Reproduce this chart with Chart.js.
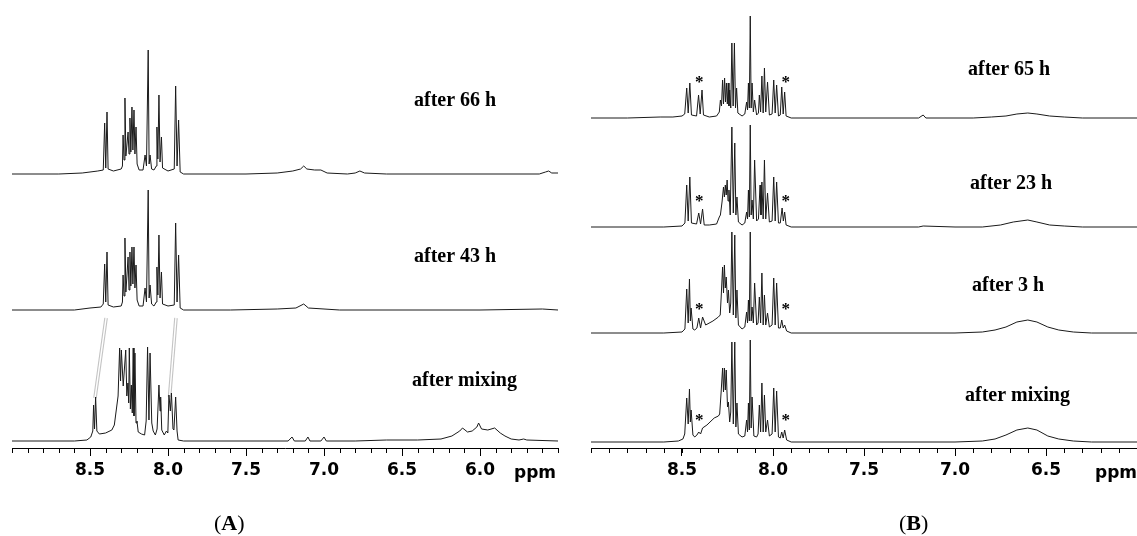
<!DOCTYPE html>
<html>
<head>
<meta charset="utf-8">
<script src="https://cdn.jsdelivr.net/npm/chart.js@4.4.1/dist/chart.umd.min.js"></script>
<style>
  html, body { margin: 0; padding: 0; background: #fff; }
  #wrap { position: relative; width: 1137px; height: 536px; overflow: hidden; }
  #panelA { position: absolute; left: 0; top: 0; }
  #panelB { position: absolute; left: 569px; top: 0; }
</style>
</head>
<body>
<div id="wrap">
  <canvas id="panelA" width="568" height="536"></canvas>
  <canvas id="panelB" width="568" height="536"></canvas>
</div>
<script>
// ---- data: [ppm, intensity above the trace's own baseline] ----
const specA66 = [[9.0,0],[8.70,0],[8.55,1],[8.45,3],[8.415,4],[8.406,51],[8.399,6],[8.391,62],[8.384,5],[8.35,3],[8.30,5],[8.292,8],[8.288,39],[8.282,14],[8.276,76],[8.27,18],[8.263,30],[8.256,42],[8.25,20],[8.244,56],[8.238,22],[8.231,67],[8.225,24],[8.218,64],[8.212,20],[8.205,47],[8.198,10],[8.185,4],[8.16,4],[8.147,19],[8.138,8],[8.127,124],[8.121,10],[8.115,19],[8.105,5],[8.09,4],[8.075,8],[8.071,47],[8.065,15],[8.058,79],[8.051,12],[8.042,37],[8.035,6],[8.0,3],[7.96,5],[7.951,88],[7.942,8],[7.932,54],[7.922,2],[7.90,0],[7.5,0],[7.3,1],[7.2,3],[7.15,5],[7.13,8],[7.11,5],[7.06,4],[7.02,4],[6.98,1],[6.85,0],[6.80,1],[6.77,3],[6.74,1],[6.6,0],[5.62,0],[5.58,2],[5.56,3],[5.54,1],[5.5,1]];
const specA43 = [[9.0,0],[8.6,0],[8.5,2],[8.43,3],[8.415,6],[8.406,46],[8.399,8],[8.391,58],[8.384,5],[8.35,3],[8.30,4],[8.292,8],[8.288,35],[8.282,14],[8.276,72],[8.27,18],[8.263,35],[8.256,53],[8.25,20],[8.244,58],[8.238,24],[8.231,63],[8.225,26],[8.218,63],[8.212,22],[8.205,45],[8.198,10],[8.185,4],[8.16,4],[8.147,22],[8.138,8],[8.127,120],[8.121,12],[8.115,25],[8.105,6],[8.09,4],[8.075,8],[8.071,43],[8.065,15],[8.058,75],[8.051,12],[8.042,38],[8.035,6],[8.0,4],[7.96,5],[7.951,87],[7.942,8],[7.932,55],[7.922,2],[7.9,0],[7.6,0],[7.3,1],[7.18,2],[7.13,6],[7.10,2],[7.0,1],[6.9,0],[6.0,0],[5.6,1],[5.5,0]];
const specAmix = [[9.0,0],[8.6,0],[8.52,1],[8.495,4],[8.482,10],[8.477,36],[8.471,12],[8.464,44],[8.456,10],[8.44,7],[8.40,8],[8.36,11],[8.344,16],[8.32,45],[8.31,93],[8.304,60],[8.299,91],[8.287,55],[8.271,91],[8.264,45],[8.257,58],[8.252,38],[8.248,93],[8.241,32],[8.235,56],[8.229,28],[8.223,93],[8.218,25],[8.212,88],[8.205,18],[8.199,20],[8.191,9],[8.17,7],[8.15,6],[8.14,20],[8.131,94],[8.122,21],[8.115,88],[8.104,18],[8.095,10],[8.081,6],[8.07,12],[8.058,56],[8.051,30],[8.047,44],[8.04,11],[8.024,6],[8.01,10],[8.001,8],[7.994,46],[7.985,30],[7.978,48],[7.968,12],[7.962,11],[7.951,44],[7.942,10],[7.935,1],[7.9,0],[7.23,0],[7.205,4],[7.19,0],[7.12,0],[7.103,4],[7.09,0],[7.02,0],[7.0,4],[6.985,0],[6.8,0],[6.6,1],[6.4,1],[6.25,2],[6.18,5],[6.13,10],[6.112,13],[6.08,9],[6.05,10],[6.02,14],[6.009,18],[5.99,12],[5.95,11],[5.906,13],[5.87,8],[5.84,5],[5.827,4],[5.80,2],[5.75,1],[5.72,2],[5.70,1],[5.5,0]];

const specB65 = [[9.0,0],[8.8,0],[8.62,1],[8.55,1],[8.50,2],[8.485,4],[8.474,30],[8.466,5],[8.457,35],[8.448,3],[8.42,2],[8.409,23],[8.40,4],[8.39,28],[8.382,3],[8.35,1],[8.31,2],[8.295,6],[8.289,18],[8.283,12],[8.277,38],[8.272,14],[8.266,40],[8.261,16],[8.256,35],[8.251,14],[8.246,35],[8.242,12],[8.238,28],[8.232,10],[8.226,75],[8.219,12],[8.212,75],[8.206,10],[8.2,30],[8.193,5],[8.17,2],[8.155,4],[8.145,16],[8.14,8],[8.135,35],[8.13,10],[8.125,102],[8.12,10],[8.115,35],[8.108,6],[8.101,18],[8.09,3],[8.08,5],[8.075,23],[8.068,6],[8.061,42],[8.054,5],[8.047,50],[8.04,6],[8.03,36],[8.02,3],[8.005,4],[7.996,38],[7.988,5],[7.98,33],[7.97,2],[7.96,3],[7.952,31],[7.944,4],[7.936,26],[7.928,2],[7.9,0],[7.2,0],[7.175,3],[7.16,0],[6.9,0],[6.8,1],[6.72,2],[6.66,4],[6.60,5],[6.55,4],[6.48,2],[6.4,1],[6.3,0],[6.0,0]];
const specB23 = [[9.0,0],[8.6,0],[8.5,1],[8.484,4],[8.474,42],[8.466,6],[8.457,50],[8.448,4],[8.42,3],[8.408,14],[8.398,3],[8.387,18],[8.378,2],[8.35,2],[8.31,3],[8.295,10],[8.289,12],[8.28,25],[8.272,40],[8.267,30],[8.262,42],[8.257,32],[8.252,47],[8.247,26],[8.242,37],[8.235,12],[8.226,100],[8.218,14],[8.21,84],[8.204,12],[8.198,30],[8.19,5],[8.17,2],[8.155,4],[8.145,15],[8.14,8],[8.135,37],[8.13,10],[8.125,102],[8.12,12],[8.115,27],[8.108,8],[8.101,67],[8.09,6],[8.08,8],[8.071,42],[8.066,12],[8.061,45],[8.054,8],[8.047,67],[8.04,8],[8.03,34],[8.02,5],[8.005,6],[7.996,50],[7.988,6],[7.98,45],[7.97,4],[7.96,4],[7.95,19],[7.943,6],[7.936,15],[7.928,2],[7.9,0],[7.2,0],[7.175,1],[7.0,0],[6.85,0],[6.75,2],[6.68,5],[6.60,7],[6.55,5],[6.48,2],[6.4,1],[6.3,0],[6.0,0]];
const specB3 = [[9.0,0],[8.6,0],[8.5,1],[8.484,4],[8.474,44],[8.466,10],[8.459,54],[8.454,12],[8.45,25],[8.44,4],[8.43,3],[8.418,5],[8.408,15],[8.398,5],[8.387,16],[8.37,8],[8.33,12],[8.30,16],[8.29,18],[8.285,35],[8.277,66],[8.272,40],[8.267,68],[8.262,45],[8.257,56],[8.25,30],[8.245,43],[8.238,20],[8.232,30],[8.226,101],[8.218,18],[8.21,98],[8.204,15],[8.198,43],[8.19,8],[8.17,4],[8.155,6],[8.145,21],[8.14,10],[8.135,33],[8.13,12],[8.125,101],[8.12,12],[8.115,26],[8.108,10],[8.101,50],[8.09,8],[8.082,10],[8.075,36],[8.068,10],[8.061,60],[8.054,8],[8.047,38],[8.04,8],[8.03,20],[8.02,6],[8.005,8],[7.996,55],[7.988,8],[7.98,50],[7.97,5],[7.96,5],[7.952,13],[7.944,5],[7.936,8],[7.925,2],[7.9,0],[7.0,0],[6.85,1],[6.78,3],[6.72,6],[6.66,11],[6.60,13],[6.55,11],[6.49,6],[6.43,3],[6.35,1],[6.25,0],[6.0,0]];
const specBmix = [[9.0,0],[8.6,0],[8.52,1],[8.495,3],[8.485,8],[8.474,44],[8.466,18],[8.459,53],[8.454,20],[8.45,32],[8.44,7],[8.43,5],[8.418,7],[8.408,10],[8.398,8],[8.387,14],[8.363,17],[8.323,24],[8.30,26],[8.293,28],[8.285,50],[8.277,74],[8.272,50],[8.267,74],[8.262,52],[8.257,72],[8.25,35],[8.245,40],[8.238,20],[8.232,30],[8.226,100],[8.218,18],[8.21,100],[8.204,15],[8.198,39],[8.19,8],[8.17,5],[8.155,6],[8.145,22],[8.14,10],[8.135,39],[8.13,12],[8.125,102],[8.12,14],[8.115,45],[8.105,6],[8.09,5],[8.082,8],[8.075,37],[8.068,10],[8.061,59],[8.054,10],[8.047,47],[8.04,10],[8.03,22],[8.02,6],[8.005,8],[7.996,54],[7.988,10],[7.98,51],[7.97,5],[7.96,4],[7.952,10],[7.944,4],[7.936,12],[7.925,2],[7.9,0],[7.0,0],[6.85,1],[6.78,3],[6.72,7],[6.66,12],[6.60,14],[6.55,12],[6.49,6],[6.43,3],[6.35,1],[6.25,0],[6.0,0]];

const namesA = ['after 66 h', 'after 43 h', 'after mixing'];
const namesB = ['after 65 h', 'after 23 h', 'after 3 h', 'after mixing'];
const ticksA = [8.5, 8.0, 7.5, 7.0, 6.5, 6.0];
const ticksB = [8.5, 8.0, 7.5, 7.0, 6.5];
// shifted-peak guide lines in panel A: [ppm, y] from lower trace to middle trace
const linksA = [[[8.468, 50], [8.397, 130]], [[7.990, 51], [7.949, 130]]];
// impurity marks in panel B: ppm positions and height above each trace
const starPpmB = [8.405, 7.93];
const starHeightB = [39, 29, 27, 25];

// ---- layout ----
const offsetsA = [274, 138, 7];
const offsetsB = [330, 221, 115, 6];
const labelPosA = [[414, 106], [414, 262], [412, 386]];
const labelPosB = [[399, 75], [401, 189], [403, 291], [396, 401]];

const notes = {
  id: 'notes',
  afterDraw(chart, args, o) {
    const ctx = chart.ctx, xs = chart.scales.x, ys = chart.scales.y;
    const bottom = chart.chartArea.bottom;
    ctx.save();
    // minor ticks every 0.1 ppm
    ctx.strokeStyle = '#000';
    ctx.lineWidth = 1;
    for (let k = Math.round(xs.min * 10); k <= Math.round(xs.max * 10); k++) {
      const px = Math.round(xs.getPixelForValue(k / 10)) + 0.5;
      ctx.beginPath();
      ctx.moveTo(px, bottom);
      ctx.lineTo(px, bottom + 5);
      ctx.stroke();
    }
    // "ppm"
    ctx.fillStyle = '#000';
    ctx.font = 'bold 17px "DejaVu Sans"';
    ctx.textAlign = 'center';
    ctx.textBaseline = 'alphabetic';
    ctx.fillText('ppm', o.ppmX, 478);
    // trace labels
    ctx.font = 'bold 20px "Liberation Serif"';
    ctx.textAlign = 'left';
    o.names.forEach((n, i) => ctx.fillText(n, o.labelPos[i][0], o.labelPos[i][1]));
    // stars
    if (o.stars) {
      ctx.font = 'bold 17px "Liberation Serif"';
      ctx.textAlign = 'center';
      o.offsets.forEach((off, i) => {
        o.stars.forEach(p => {
          ctx.fillText('*', xs.getPixelForValue(p), ys.getPixelForValue(off + o.starHeight[i]) + 8);
        });
      });
    }
    // panel letter
    ctx.textAlign = 'left';
    ctx.font = '22px "Liberation Serif"';
    const w1 = ctx.measureText('(').width;
    ctx.font = 'bold 22px "Liberation Serif"';
    const w2 = ctx.measureText(o.panel).width;
    let x0 = o.panelX;
    ctx.font = '22px "Liberation Serif"';
    ctx.fillText('(', x0, 530);
    ctx.font = 'bold 22px "Liberation Serif"';
    ctx.fillText(o.panel, x0 + w1, 530);
    ctx.font = '22px "Liberation Serif"';
    ctx.fillText(')', x0 + w1 + w2, 530);
    ctx.restore();
  }
};

function traceSet(spec, off) {
  return {
    data: spec.map(([p, h]) => ({ x: p, y: off + h })),
    showLine: true, borderColor: '#1a1a1a', borderWidth: 1, pointRadius: 0,
    tension: 0, order: 0, clip: false
  };
}

function linkSets(links) {
  const sets = [];
  links.forEach(l => {
    const data = l.map(([p, y]) => ({ x: p, y: y }));
    sets.push({ data, showLine: true, borderColor: '#c4c4c4', borderWidth: 3.6, pointRadius: 0, order: 5 });
    sets.push({ data, showLine: true, borderColor: '#ffffff', borderWidth: 1.4, pointRadius: 0, order: 4 });
  });
  return sets;
}

function makeChart(id, cfg) {
  const datasets = cfg.specs.map((s, i) => traceSet(s, cfg.offsets[i])).concat(linkSets(cfg.links || []));
  return new Chart(document.getElementById(id), {
    type: 'scatter',
    data: { datasets },
    options: {
      responsive: false,
      animation: false,
      layout: { padding: { left: cfg.padLeft, right: cfg.padRight, top: 0, bottom: 0 } },
      plugins: {
        legend: { display: false },
        tooltip: { enabled: false },
        notes: {
          names: cfg.names, labelPos: cfg.labelPos, offsets: cfg.offsets,
          stars: cfg.stars, starHeight: cfg.starHeight, panel: cfg.panel,
          panelX: cfg.panelX, ppmX: cfg.ppmX
        }
      },
      scales: {
        x: {
          type: 'linear', reverse: true, min: cfg.min, max: cfg.max,
          afterFit: s => { s.height = 88; },
          afterBuildTicks: s => { s.ticks = cfg.ticks.map(v => ({ value: v })); },
          grid: { drawOnChartArea: false, drawTicks: true, tickLength: 8, tickColor: '#000', tickWidth: 1 },
          border: { display: true, color: '#000', width: 1 },
          ticks: {
            color: '#000', padding: 4, maxRotation: 0, autoSkip: false,
            font: { family: 'DejaVu Sans', weight: 'bold', size: 17 },
            callback: v => Number(v).toFixed(1)
          }
        },
        y: { display: false, min: 0, max: 448 }
      }
    },
    plugins: [notes]
  });
}

makeChart('panelA', {
  specs: [specA66, specA43, specAmix], offsets: offsetsA, names: namesA, labelPos: labelPosA,
  links: linksA, ticks: ticksA, min: 5.5, max: 9.0, padLeft: 12, padRight: 10,
  panel: 'A', panelX: 214, ppmX: 535
});
makeChart('panelB', {
  specs: [specB65, specB23, specB3, specBmix], offsets: offsetsB, names: namesB, labelPos: labelPosB,
  ticks: ticksB, min: 6.0, max: 9.0, padLeft: 22, padRight: 0,
  stars: starPpmB, starHeight: starHeightB,
  panel: 'B', panelX: 330, ppmX: 547
});
</script>
</body>
</html>
